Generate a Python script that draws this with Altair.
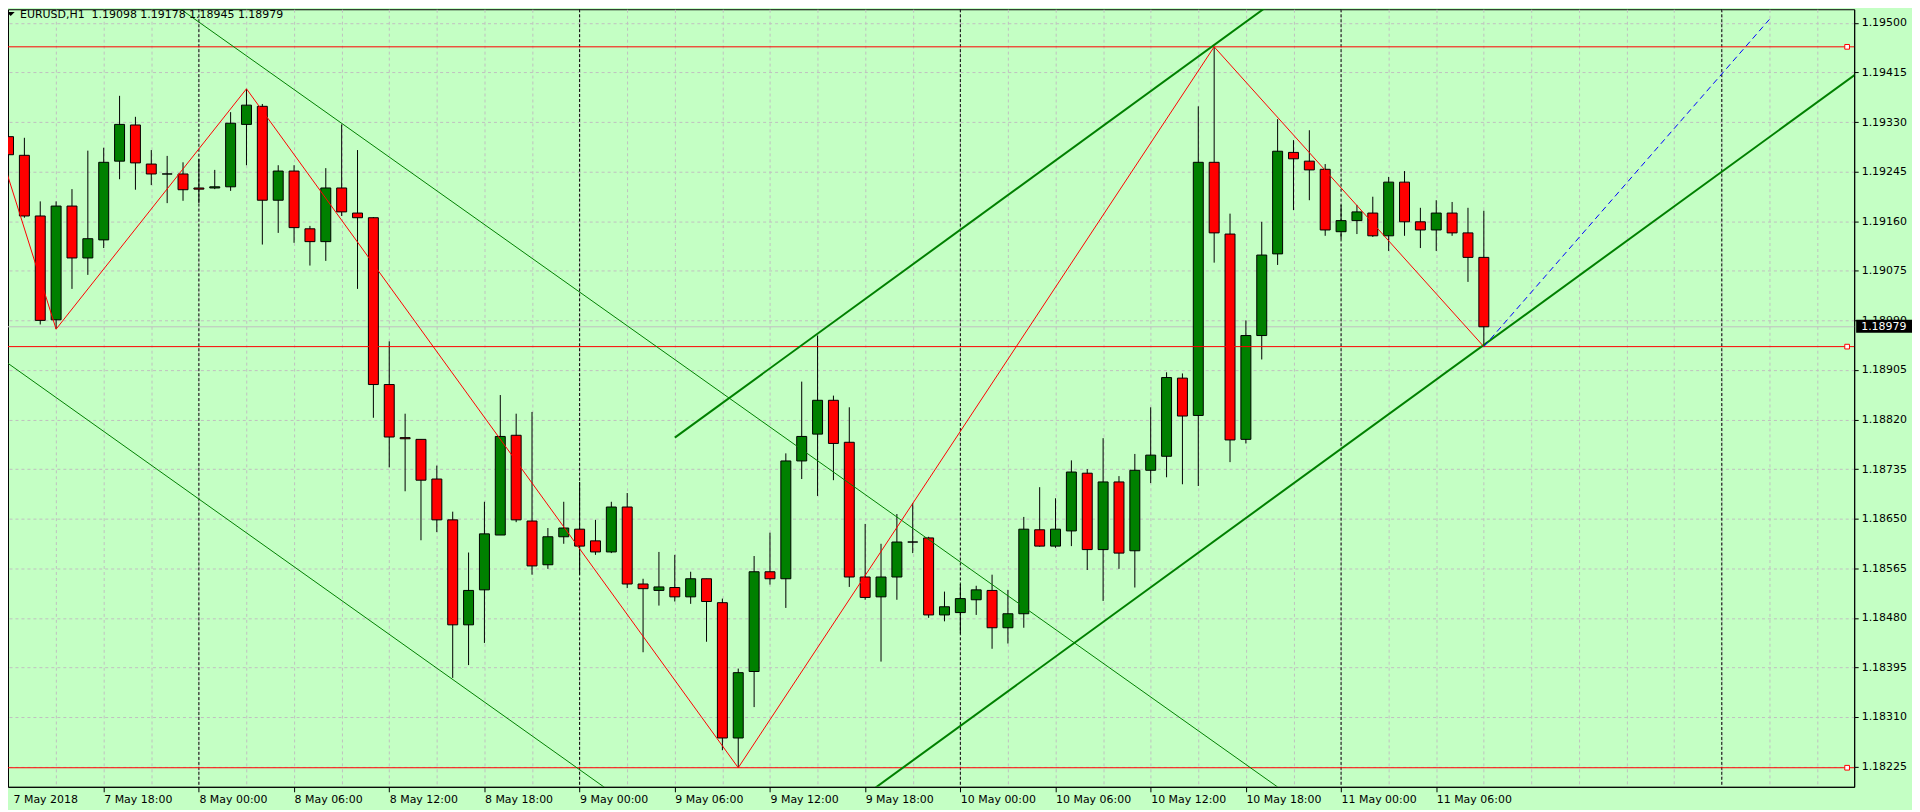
import altair as alt
import pandas as pd

# ---------------- data ----------------
opens = [1.19305, 1.19273, 1.19169, 1.18991, 1.19186, 1.19097, 1.19128, 1.19263, 1.19325, 1.19258,
         1.19241, 1.19241, 1.19217, 1.19217, 1.19219, 1.19326, 1.19357, 1.19196, 1.19246, 1.19147,
         1.19125, 1.19217, 1.19174, 1.19166, 1.18880, 1.18789, 1.18786, 1.18718, 1.18648, 1.18468,
         1.18528, 1.18622, 1.18793, 1.18646, 1.18571, 1.18619, 1.18632, 1.18612, 1.18593, 1.18670,
         1.18538, 1.18527, 1.18532, 1.18516, 1.18547, 1.18506, 1.18274, 1.18388, 1.18559, 1.18547,
         1.18749, 1.18795, 1.18853, 1.18781, 1.18550, 1.18516, 1.18550, 1.18610, 1.18617, 1.18485,
         1.18489, 1.18511, 1.18527, 1.18463, 1.18487, 1.18631, 1.18603, 1.18629, 1.18728, 1.18597,
         1.18713, 1.18595, 1.18733, 1.18757, 1.18891, 1.18827, 1.19261, 1.19138, 1.18786, 1.18964,
         1.19104, 1.19278, 1.19263, 1.19249, 1.19142, 1.19161, 1.19174, 1.19135, 1.19227, 1.19159,
         1.19145, 1.19174, 1.19140, 1.19098]
highs = [1.19327, 1.19303, 1.19194, 1.19194, 1.19215, 1.19281, 1.19286, 1.19375, 1.19339, 1.19282,
         1.19272, 1.19261, 1.19267, 1.19248, 1.19347, 1.19387, 1.19361, 1.19256, 1.19256, 1.19152,
         1.19251, 1.19326, 1.19282, 1.19167, 1.18954, 1.18830, 1.18786, 1.18741, 1.18662, 1.18592,
         1.18679, 1.18862, 1.18830, 1.18833, 1.18634, 1.18679, 1.18713, 1.18648, 1.18679, 1.18694,
         1.18547, 1.18593, 1.18588, 1.18559, 1.18547, 1.18513, 1.18393, 1.18586, 1.18626, 1.18762,
         1.18885, 1.18964, 1.18861, 1.18841, 1.18641, 1.18607, 1.18658, 1.18677, 1.18619, 1.18525,
         1.18538, 1.18535, 1.18554, 1.18528, 1.18653, 1.18704, 1.18685, 1.18750, 1.18735, 1.18788,
         1.18723, 1.18761, 1.18841, 1.18901, 1.18899, 1.19357, 1.19459, 1.19173, 1.18990, 1.19159,
         1.19335, 1.19299, 1.19316, 1.19258, 1.19188, 1.19188, 1.19202, 1.19236, 1.19246, 1.19183,
         1.19196, 1.19193, 1.19183, 1.19178]
lows = [1.19233, 1.19166, 1.18983, 1.18975, 1.19044, 1.19068, 1.19114, 1.19232, 1.19214, 1.19222,
        1.19191, 1.19195, 1.19191, 1.19215, 1.19212, 1.19256, 1.19120, 1.19140, 1.19123, 1.19084,
        1.19092, 1.19169, 1.19044, 1.18823, 1.18738, 1.18697, 1.18613, 1.18627, 1.18377, 1.18399,
        1.18437, 1.18622, 1.18644, 1.18554, 1.18564, 1.18607, 1.18554, 1.18588, 1.18591, 1.18531,
        1.18421, 1.18501, 1.18508, 1.18504, 1.18439, 1.18253, 1.18223, 1.18327, 1.18537, 1.18497,
        1.18718, 1.18689, 1.18716, 1.18533, 1.18511, 1.18405, 1.18511, 1.18591, 1.18480, 1.18474,
        1.18453, 1.18485, 1.18427, 1.18436, 1.18463, 1.18602, 1.18600, 1.18603, 1.18562, 1.18509,
        1.18564, 1.18532, 1.18711, 1.18721, 1.18709, 1.18706, 1.19089, 1.18747, 1.18779, 1.18923,
        1.19085, 1.19179, 1.19196, 1.19135, 1.19130, 1.19138, 1.19133, 1.19109, 1.19135, 1.19114,
        1.19109, 1.19135, 1.19056, 1.18945]
closes = [1.19274, 1.19169, 1.18990, 1.19186, 1.19097, 1.19130, 1.19261, 1.19326, 1.19260, 1.19241,
          1.19241, 1.19214, 1.19215, 1.19219, 1.19328, 1.19359, 1.19196, 1.19246, 1.19149, 1.19125,
          1.19217, 1.19176, 1.19166, 1.18880, 1.18790, 1.18787, 1.18716, 1.18648, 1.18468, 1.18527,
          1.18624, 1.18791, 1.18648, 1.18569, 1.18619, 1.18634, 1.18603, 1.18593, 1.18670, 1.18538,
          1.18530, 1.18533, 1.18516, 1.18547, 1.18508, 1.18274, 1.18386, 1.18559, 1.18547, 1.18749,
          1.18791, 1.18853, 1.18779, 1.18550, 1.18515, 1.18550, 1.18610, 1.18610, 1.18485, 1.18499,
          1.18513, 1.18528, 1.18463, 1.18487, 1.18632, 1.18603, 1.18632, 1.18730, 1.18597, 1.18713,
          1.18591, 1.18733, 1.18759, 1.18892, 1.18826, 1.19261, 1.19140, 1.18785, 1.18964, 1.19102,
          1.19280, 1.19267, 1.19248, 1.19145, 1.19161, 1.19176, 1.19135, 1.19227, 1.19159, 1.19145,
          1.19174, 1.19140, 1.19098, 1.18979]

# bar index 0 = 7 May 12:00 (H1 bars)
label_idx = [0, 6, 12, 18, 24, 30, 36, 42, 48, 54, 60, 66, 72, 78, 84, 90]
time_labels = ["7 May 2018", "7 May 18:00", "8 May 00:00", "8 May 06:00", "8 May 12:00",
               "8 May 18:00", "9 May 00:00", "9 May 06:00", "9 May 12:00", "9 May 18:00",
               "10 May 00:00", "10 May 06:00", "10 May 12:00", "10 May 18:00", "11 May 00:00",
               "11 May 06:00"]
grid_idx = list(range(3, 115, 3))
separator_idx = [12, 36, 60, 84, 108]
ytick_vals = [1.18225, 1.18310, 1.18395, 1.18480, 1.18565, 1.18650, 1.18735, 1.18820,
              1.18905, 1.18990, 1.19075, 1.19160, 1.19245, 1.19330, 1.19415, 1.19500]

level_prices = [1.19459, 1.18945, 1.18223]
level_end_idx = 115.9

zigzag_idx = [-1, 3, 15, 46, 76, 93]
zigzag_price = [1.19320, 1.18975, 1.19387, 1.18223, 1.19459, 1.18945]

thin_id = ["a", "a", "b", "b"]
thin_idx = [10, 80, -1, 38]
thin_price = [1.19540, 1.18190, 1.18935, 1.18181]

thick_id = ["c", "c", "d", "d"]
thick_idx = [42, 82, 54, 117]
thick_price = [1.18789, 1.19581, 1.18176, 1.19423]

proj_idx = [93, 111]
proj_price = [1.18945, 1.19506]

symbol = "EURUSD,H1"

# ---------------- styling ----------------
W, H = 1852, 780
BG = "#C4FFC4"
GRID = "#C0C0C0"
UP = "#008000"
DN = "#FF0000"
FONT = "DejaVu Sans"

xs = alt.Scale(domain=[0.28125, 116.03125], zero=False, nice=False)
ys = alt.Scale(domain=[1.1819031, 1.195234], zero=False, nice=False)

label_js = "[" + ",".join("'" + t + "'" for t in time_labels) + "]"
last_lbl = label_idx[-1]
xaxis = alt.Axis(
    values=grid_idx, title=None, grid=True, gridColor=GRID, gridDash=[3, 3], gridWidth=1,
    domainColor="black", domainWidth=1, tickColor="black", tickSize=5, tickWidth=1,
    tickOpacity={"condition": {"test": f"datum.value % 6 == 0 && datum.value <= {last_lbl}", "value": 1},
                 "value": 0},
    labelExpr=f"(datum.value % 6 == 0 && datum.value <= {last_lbl}) ? {label_js}[datum.value / 6] : ''",
    labelAlign="left", labelBaseline="top", labelPadding=2, labelFont=FONT, labelFontSize=11,
    labelColor="black", labelOverlap=False, labelFlush=False, labelBound=False, zindex=0)
yaxis = alt.Axis(
    orient="right", values=ytick_vals, format=".5f", title=None, grid=True, gridColor=GRID,
    gridDash=[3, 3], gridWidth=1, domainColor="black", domainWidth=1, tickColor="black",
    tickSize=4, labelPadding=3, labelFont=FONT, labelFontSize=11, labelColor="black",
    labelBaseline="middle", labelOverlap=False, labelBound=False, zindex=0)

X = lambda f: alt.X(f, type="quantitative", scale=xs, axis=xaxis)
Y = lambda f: alt.Y(f, type="quantitative", scale=ys, axis=yaxis)

n = len(opens)
bars = pd.DataFrame({"i": list(range(n)), "o": opens, "h": highs, "l": lows, "c": closes})
seps = pd.DataFrame({"i": separator_idx})
bid = pd.DataFrame({"p": [closes[-1]], "t": [f"{closes[-1]:.5f}"]})
levels = pd.DataFrame({"p": level_prices, "i": [level_end_idx] * len(level_prices)})
zz = pd.DataFrame({"i": zigzag_idx, "p": zigzag_price})
thin = pd.DataFrame({"id": thin_id, "i": thin_idx, "p": thin_price})
thick = pd.DataFrame({"id": thick_id, "i": thick_idx, "p": thick_price})
proj = pd.DataFrame({"i": proj_idx, "p": proj_price})
header = pd.DataFrame({"t": [f"{symbol}\u00a0\u00a0{opens[-1]:.5f} {highs[-1]:.5f} {lows[-1]:.5f} {closes[-1]:.5f}"]})
first_lbl = pd.DataFrame({"i": [label_idx[0]], "t": [time_labels[0]]})

sep_layer = alt.Chart(seps).mark_rule(color="black", strokeDash=[3, 2], strokeWidth=1).encode(x=X("i"))
bid_layer = alt.Chart(bid).mark_rule(color="#C0C0C0", strokeWidth=1).encode(y=Y("p"))
wick_layer = alt.Chart(bars).mark_rule(color="black", strokeWidth=1, clip=True).encode(
    x=X("i"), y=Y("l"), y2="h")
body_layer = alt.Chart(bars).mark_bar(width=10, stroke="black", strokeWidth=1, clip=True).encode(
    x=X("i"), y=Y("o"), y2="c",
    color=alt.condition("datum.c >= datum.o", alt.value(UP), alt.value(DN)))
level_layer = alt.Chart(levels).mark_rule(color="#FF0000", strokeWidth=1).encode(y=Y("p"))
marker_layer = alt.Chart(levels).mark_point(shape="square", size=22, filled=True, fill="white",
                                            stroke="#FF0000", strokeWidth=1, opacity=1).encode(
    x=X("i"), y=Y("p"))
thin_layer = alt.Chart(thin).mark_line(color="#008000", strokeWidth=1, clip=True).encode(
    x=X("i"), y=Y("p"), detail="id:N")
thick_layer = alt.Chart(thick).mark_line(color="#008000", strokeWidth=2, clip=True).encode(
    x=X("i"), y=Y("p"), detail="id:N")
proj_layer = alt.Chart(proj).mark_line(color="#0000FF", strokeWidth=1, strokeDash=[6, 4], clip=True).encode(
    x=X("i"), y=Y("p"))
zz_layer = alt.Chart(zz).mark_line(color="#FF0000", strokeWidth=1, clip=True).encode(
    x=X("i"), y=Y("p"))
box_layer = alt.Chart(bid).mark_rect(color="black", yOffset=-7, y2Offset=6).encode(
    x=alt.value(W + 2), x2=alt.value(W + 58), y=Y("p"), y2="p")
box_text = alt.Chart(bid).mark_text(color="white", align="left", baseline="middle", font=FONT,
                                    fontSize=11).encode(x=alt.value(W + 7), y=Y("p"), text="t:N")
hdr_text = alt.Chart(header).mark_text(color="black", align="left", baseline="alphabetic", font=FONT,
                                       fontSize=11).encode(x=alt.value(12), y=alt.value(9), text="t:N")
hdr_tri = alt.Chart(header).mark_point(shape="M-1,-0.5L1,-0.5L0,0.5Z", size=64, filled=True,
                                       color="black", opacity=1).encode(x=alt.value(2.7), y=alt.value(4.7))
first_text = alt.Chart(first_lbl).mark_text(color="black", align="left", baseline="top", font=FONT,
                                            fontSize=11, dx=5).encode(x=X("i"), y=alt.value(H + 7), text="t:N")

chart = alt.layer(
    sep_layer, bid_layer, wick_layer, body_layer, level_layer, marker_layer, thin_layer,
    thick_layer, proj_layer, zz_layer, box_layer, box_text, hdr_text, hdr_tri, first_text
).properties(
    width=W, height=H, background=BG,
    autosize=alt.AutoSizeParams(type="none"),
    padding={"left": 0, "top": 0, "right": 58, "bottom": 22},
).configure_view(stroke="black", strokeWidth=1, fill=BG)

chart.save("out.html", embed_options={"renderer": "svg", "actions": False})
